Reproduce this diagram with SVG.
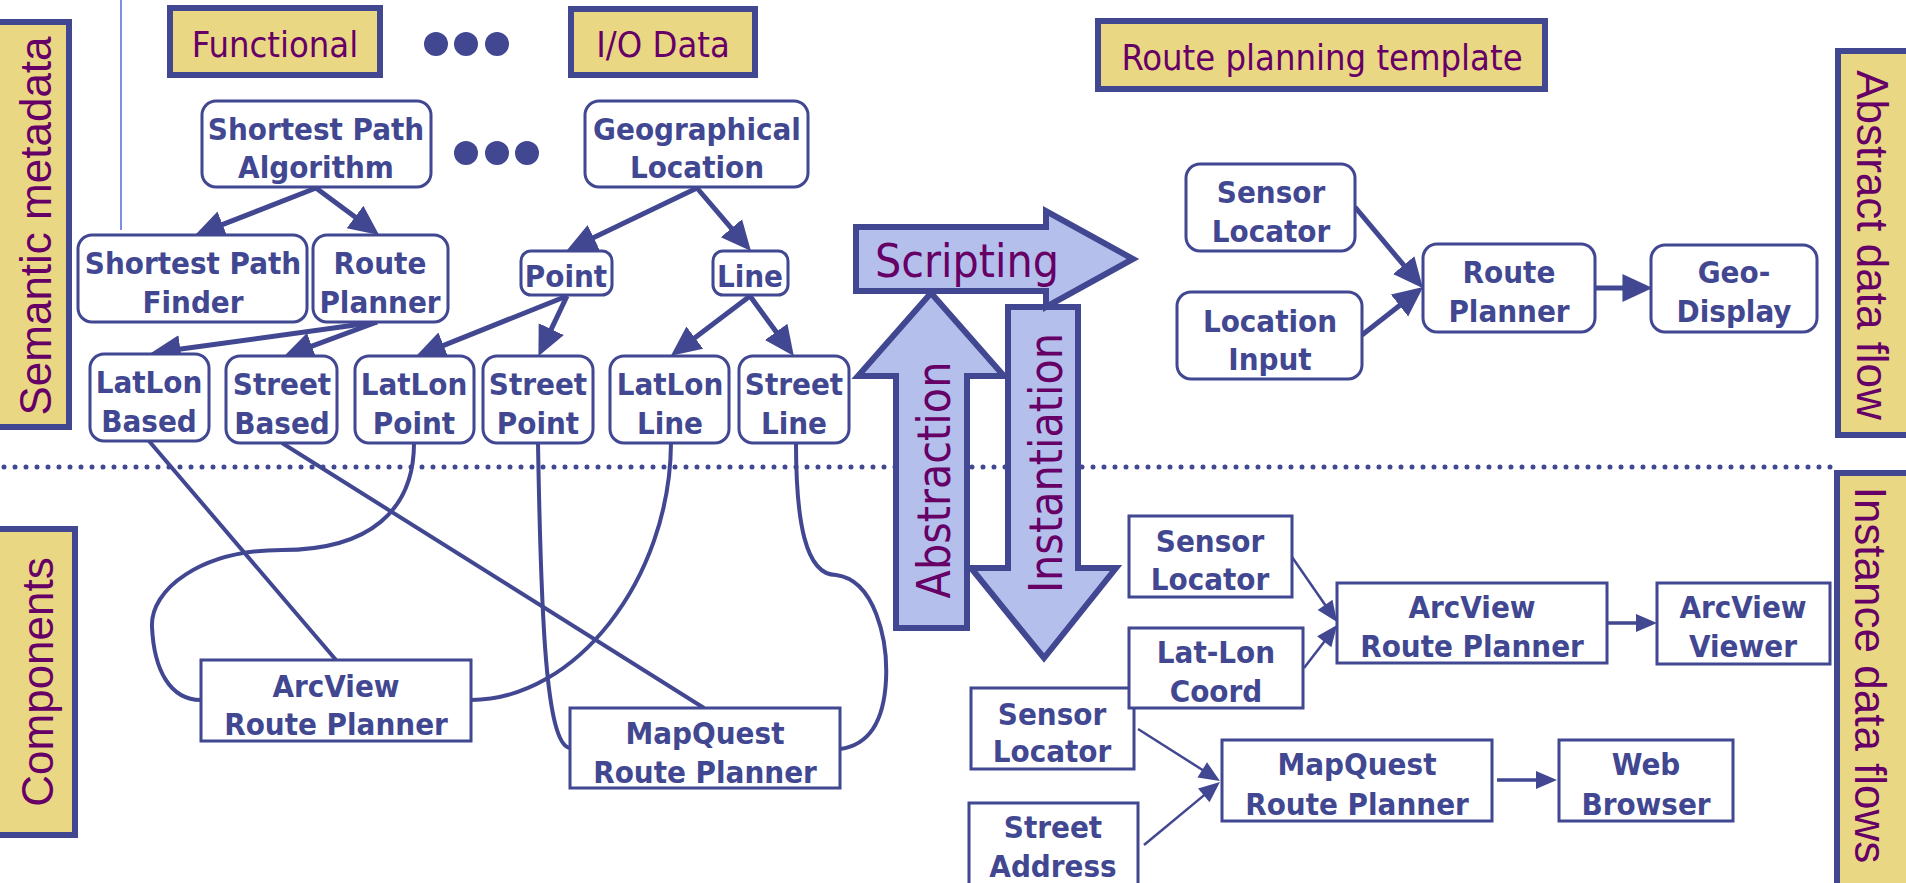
<svg xmlns="http://www.w3.org/2000/svg" width="1906" height="883" viewBox="0 0 1906 883">
<style>
.bg{fill:#ffffff}
.tag{fill:#EAD784;stroke:#414791;stroke-width:6}
.tagtxt{font-family:"DejaVu Sans Condensed","DejaVu Sans",sans-serif;font-stretch:condensed;font-size:36px;fill:#660066}
.side{font-family:"Liberation Sans",Arial,sans-serif;font-size:44px;fill:#660066;text-anchor:middle}
.rn{fill:#ffffff;stroke:#414791;stroke-width:3}
.nt{font-family:"DejaVu Sans Condensed","DejaVu Sans",sans-serif;font-stretch:condensed;font-weight:bold;font-size:31px;fill:#414791;text-anchor:middle}
.big{fill:#B5BFEB;stroke:#414791;stroke-width:6;stroke-linejoin:miter}
.bigtxt{font-family:"DejaVu Sans Condensed","DejaVu Sans",sans-serif;font-stretch:condensed;font-size:46px;fill:#660066}
.thick{fill:none;stroke:#414791;stroke-width:5}
.thin{fill:none;stroke:#414791;stroke-width:2.5}
.mid{fill:none;stroke:#414791;stroke-width:3.5}
.link{fill:none;stroke:#414791;stroke-width:4}
.dot{fill:#414791}
</style>
<defs>
<marker id="ah" markerUnits="userSpaceOnUse" markerWidth="30" markerHeight="30" viewBox="0 -14 28 28" refX="8" refY="0" orient="auto">
<path d="M0,-13 L28,0 L0,13 Z" fill="#414791"/>
</marker>
<marker id="as" markerUnits="userSpaceOnUse" markerWidth="22" markerHeight="20" viewBox="0 -10 21 20" refX="6" refY="0" orient="auto">
<path d="M0,-9 L21,0 L0,9 Z" fill="#414791"/>
</marker>
</defs>
<rect class="bg" x="0" y="0" width="1906" height="883"/>

<!-- background guides -->
<line x1="121" y1="0" x2="121" y2="230" stroke="#7B8FE8" stroke-width="2"/>
<line x1="4" y1="467" x2="1834" y2="467" stroke="#414791" stroke-width="5" stroke-linecap="round" stroke-dasharray="0 11"/>

<!-- side labels -->
<g id="semantic-metadata">
<rect class="tag" x="-10" y="22" width="79" height="405"/>
<text class="side" font-size="40" transform="translate(51,226) rotate(-90)">Semantic metadata</text>
</g>
<g id="components">
<rect class="tag" x="-10" y="529" width="85" height="306"/>
<text class="side" font-size="45" transform="translate(53,682) rotate(-90)">Components</text>
</g>
<g id="abstract-data-flow">
<rect class="tag" x="1838" y="51" width="80" height="384"/>
<text class="side" transform="translate(1857,245) rotate(90)">Abstract data flow</text>
</g>
<g id="instance-data-flows">
<rect class="tag" x="1837" y="473" width="80" height="420"/>
<text class="side" font-size="43" transform="translate(1855,675) rotate(90)">Instance data flows</text>
</g>

<!-- top tags -->
<g id="functional">
<rect class="tag" x="170" y="8" width="210" height="67"/>
<text class="tagtxt" x="275" y="57" text-anchor="middle">Functional</text>
</g>
<g id="io-data">
<rect class="tag" x="571" y="9" width="184" height="66"/>
<text class="tagtxt" x="663" y="57" text-anchor="middle">I/O Data</text>
</g>
<g id="route-planning-template">
<rect class="tag" x="1098" y="21" width="447" height="68"/>
<text class="tagtxt" x="1322" y="70" text-anchor="middle">Route planning template</text>
</g>
<g id="ellipsis-1">
<circle class="dot" cx="436" cy="44" r="12"/><circle class="dot" cx="466" cy="44" r="12"/><circle class="dot" cx="497" cy="44" r="12"/>
</g>
<g id="ellipsis-2">
<circle class="dot" cx="466" cy="153" r="12"/><circle class="dot" cx="497" cy="153" r="12"/><circle class="dot" cx="527" cy="153" r="12"/>
</g>

<!-- connectors -->
<g id="connectors">
<path class="thick" marker-end="url(#ah)" d="M316,188 L214.6,227.7"/>
<path class="thick" marker-end="url(#ah)" d="M316,188 L361.9,222.1"/>
<path class="thick" marker-end="url(#ah)" d="M377,322 L171.8,350.3"/>
<path class="thick" marker-end="url(#ah)" d="M377,322 L303.8,349.1"/>
<path class="thick" marker-end="url(#ah)" d="M697,188 L586,241.3"/>
<path class="thick" marker-end="url(#ah)" d="M697,188 L737,234.8"/>
<path class="thick" marker-end="url(#ah)" d="M567,296 L435.6,348.6"/>
<path class="thick" marker-end="url(#ah)" d="M567,296 L547.6,336.9"/>
<path class="thick" marker-end="url(#ah)" d="M750,296 L688,342.9"/>
<path class="thick" marker-end="url(#ah)" d="M750,296 L781.2,338.8"/>
<path class="thick" marker-end="url(#ah)" d="M1355,207 L1409.2,271.7"/>
<path class="thick" marker-end="url(#ah)" d="M1362,335 L1406.3,300.3"/>
<path class="thick" marker-end="url(#ah)" d="M1595,288 L1631,288"/>
<path class="link" d="M149,441 L336,660"/>
<path class="link" d="M282,443 L704,708"/>
<path class="link" d="M414,443 C414,510 370,550 282,550 C200,550 150,590 152,627 C154,670 170,700 201,700"/>
<path class="link" d="M538,443 C541,620 546,745 570,748"/>
<path class="link" d="M671,443 C670,580 575,700 471,700"/>
<path class="link" d="M796,443 C796,520 805,575 836,575 C875,580 888,640 886,680 C884,720 870,745 840,749"/>
<path class="thin" marker-end="url(#as)" d="M1292,557 L1328.5,609.7"/>
<path class="thin" marker-end="url(#as)" d="M1304,668 L1327.9,636.9"/>
<path class="mid" marker-end="url(#as)" d="M1607,623 L1642,623"/>
<path class="thin" marker-end="url(#as)" d="M1138,729 L1207.3,773"/>
<path class="thin" marker-end="url(#as)" d="M1144,845 L1208.4,791.6"/>
<path class="mid" marker-end="url(#as)" d="M1497,780 L1542,780"/>
</g>

<!-- semantic metadata nodes -->
<g id="shortest-path-algorithm"><rect class="rn" x="202" y="101" width="229" height="86" rx="14"/><text class="nt" x="316" y="140">Shortest Path</text><text class="nt" x="316" y="178">Algorithm</text></g>
<g id="geographical-location"><rect class="rn" x="585" y="101" width="223" height="86" rx="14"/><text class="nt" x="697" y="140">Geographical</text><text class="nt" x="697" y="178">Location</text></g>
<g id="shortest-path-finder"><rect class="rn" x="78" y="235" width="229" height="87" rx="14"/><text class="nt" x="193" y="274">Shortest Path</text><text class="nt" x="193" y="313">Finder</text></g>
<g id="route-planner"><rect class="rn" x="313" y="235" width="135" height="87" rx="14"/><text class="nt" x="380" y="274">Route</text><text class="nt" x="380" y="313">Planner</text></g>
<g id="point"><rect class="rn" x="521" y="251" width="91" height="44" rx="10"/><text class="nt" x="566" y="287">Point</text></g>
<g id="line"><rect class="rn" x="713" y="251" width="75" height="44" rx="10"/><text class="nt" x="750" y="287">Line</text></g>
<g id="latlon-based"><rect class="rn" x="90" y="354" width="119" height="87" rx="14"/><text class="nt" x="149" y="393">LatLon</text><text class="nt" x="149" y="432">Based</text></g>
<g id="street-based"><rect class="rn" x="226" y="356" width="111" height="87" rx="14"/><text class="nt" x="282" y="395">Street</text><text class="nt" x="282" y="434">Based</text></g>
<g id="latlon-point"><rect class="rn" x="355" y="356" width="119" height="87" rx="14"/><text class="nt" x="414" y="395">LatLon</text><text class="nt" x="414" y="434">Point</text></g>
<g id="street-point"><rect class="rn" x="483" y="356" width="110" height="87" rx="14"/><text class="nt" x="538" y="395">Street</text><text class="nt" x="538" y="434">Point</text></g>
<g id="latlon-line"><rect class="rn" x="610" y="356" width="119" height="87" rx="14"/><text class="nt" x="670" y="395">LatLon</text><text class="nt" x="670" y="434">Line</text></g>
<g id="street-line"><rect class="rn" x="739" y="356" width="110" height="87" rx="14"/><text class="nt" x="794" y="395">Street</text><text class="nt" x="794" y="434">Line</text></g>

<!-- abstract data flow nodes -->
<g id="tpl-sensor-locator"><rect class="rn" x="1186" y="164" width="169" height="87" rx="14"/><text class="nt" x="1271" y="203">Sensor</text><text class="nt" x="1271" y="242">Locator</text></g>
<g id="tpl-location-input"><rect class="rn" x="1177" y="292" width="185" height="87" rx="14"/><text class="nt" x="1270" y="332">Location</text><text class="nt" x="1270" y="370">Input</text></g>
<g id="tpl-route-planner"><rect class="rn" x="1423" y="244" width="172" height="88" rx="14"/><text class="nt" x="1509" y="283">Route</text><text class="nt" x="1509" y="322">Planner</text></g>
<g id="tpl-geo-display"><rect class="rn" x="1651" y="245" width="166" height="87" rx="14"/><text class="nt" x="1734" y="283">Geo-</text><text class="nt" x="1734" y="322">Display</text></g>

<!-- components -->
<g id="arcview-route-planner"><rect class="rn" x="201" y="660" width="270" height="81"/><text class="nt" x="336" y="697">ArcView</text><text class="nt" x="336" y="735">Route Planner</text></g>
<g id="mapquest-route-planner"><rect class="rn" x="570" y="708" width="270" height="80"/><text class="nt" x="705" y="744">MapQuest</text><text class="nt" x="705" y="783">Route Planner</text></g>

<!-- instance data flows -->
<g id="inst-sensor-locator-1"><rect class="rn" x="1129" y="516" width="163" height="81"/><text class="nt" x="1210" y="552">Sensor</text><text class="nt" x="1210" y="590">Locator</text></g>
<g id="inst-sensor-locator-2"><rect class="rn" x="971" y="688" width="163" height="81"/><text class="nt" x="1052" y="725">Sensor</text><text class="nt" x="1052" y="762">Locator</text></g>
<g id="inst-latlon-coord"><rect class="rn" x="1129" y="628" width="174" height="80"/><text class="nt" x="1216" y="663">Lat-Lon</text><text class="nt" x="1216" y="702">Coord</text></g>
<g id="inst-arcview-route-planner"><rect class="rn" x="1337" y="583" width="270" height="80"/><text class="nt" x="1472" y="618">ArcView</text><text class="nt" x="1472" y="657">Route Planner</text></g>
<g id="inst-arcview-viewer"><rect class="rn" x="1657" y="583" width="173" height="81"/><text class="nt" x="1743" y="618">ArcView</text><text class="nt" x="1743" y="657">Viewer</text></g>
<g id="inst-street-address"><rect class="rn" x="969" y="803" width="169" height="90"/><text class="nt" x="1053" y="838">Street</text><text class="nt" x="1053" y="877">Address</text></g>
<g id="inst-mapquest-route-planner"><rect class="rn" x="1222" y="740" width="270" height="81"/><text class="nt" x="1357" y="775">MapQuest</text><text class="nt" x="1357" y="815">Route Planner</text></g>
<g id="inst-web-browser"><rect class="rn" x="1559" y="740" width="174" height="81"/><text class="nt" x="1646" y="775">Web</text><text class="nt" x="1646" y="815">Browser</text></g>

<!-- big arrows -->
<g id="abstraction">
<path class="big" d="M931,293 L1004,376 L967,376 L967,628 L896,628 L896,376 L858,376 Z"/>
<text class="bigtxt" text-anchor="middle" transform="translate(950,480) rotate(-90)">Abstraction</text>
</g>
<g id="instantiation">
<path class="big" d="M1008,307 L1078,307 L1078,568 L1116,568 L1044,658 L971,568 L1008,568 Z"/>
<text class="bigtxt" text-anchor="middle" transform="translate(1062,463) rotate(-90)">Instantiation</text>
</g>
<g id="scripting">
<path class="big" d="M856,227 L1046,227 L1046,211 L1133,259 L1046,307 L1046,291 L856,291 Z"/>
<text class="bigtxt" x="875" y="277">Scripting</text>
</g>
</svg>
